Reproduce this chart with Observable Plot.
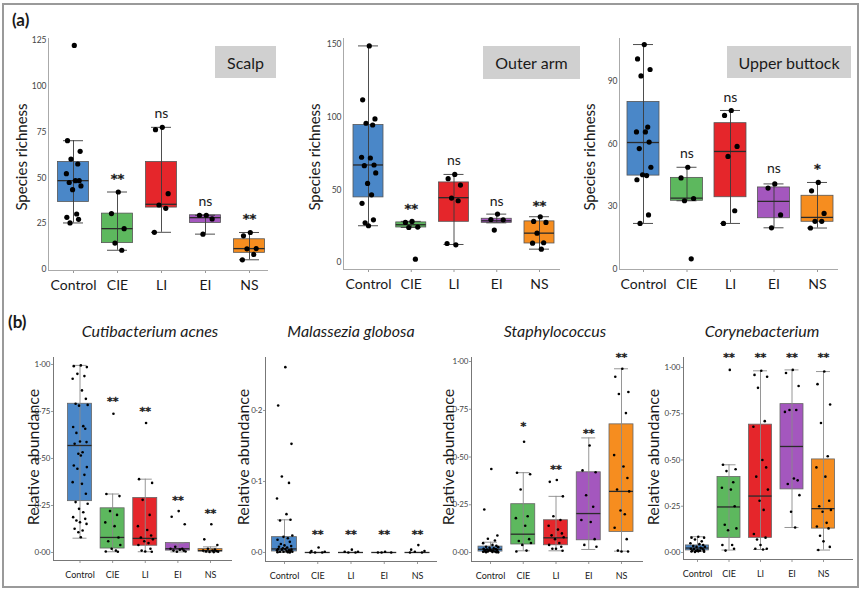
<!DOCTYPE html>
<html>
<head>
<meta charset="utf-8">
<script src="https://cdn.jsdelivr.net/npm/d3@7"></script>
<script src="https://cdn.jsdelivr.net/npm/@observablehq/plot@0.6"></script>
<style>
  html, body { margin: 0; padding: 0; background: #fff; }
  #fig { position: relative; width: 864px; height: 591px; overflow: hidden; font-family: Lato, "Open Sans", sans-serif; color: #1a1a1a; }
  .abs { position: absolute; }
  .frame { left: 2px; top: 3px; width: 857px; height: 585px; border: 2px solid #9a9a9a; box-sizing: border-box; }
  .tag { font-weight: bold; font-size: 17px; }
  .ytitle { transform: translate(-50%, -50%) rotate(-90deg); white-space: nowrap; }
  .ptitle { transform: translate(-50%, -50%); white-space: nowrap; font-style: italic; font-size: 16px; }
  .site { background: #d0d0d0; display: flex; align-items: center; justify-content: center; font-size: 16px; }
</style>
</head>
<body>
<div id="fig"></div>
<script>
// ---------- data ----------
const groups = ["Control", "CIE", "LI", "EI", "NS"];
const groupColors = ["#4a87c8", "#5db85e", "#e5262b", "#a457be", "#f68d1f"];

// box statistics per group: [lower whisker, Q1, median, Q3, upper whisker]
// (a) species richness
const scalpStats = [[25.4, 36.9, 48.5, 58.7, 70.3], [10.5, 14.4, 22.3, 30.5, 42.3], [20.3, 33.8, 35.6, 58.7, 77.6], [19.3, 25.4, 28.3, 29.6, 29.6], [5.3, 9.1, 11.4, 16.5, 20.2]];
const scalpPoints = [
  [122.3, 70.3, 64.5, 60.3, 57.6, 52.3, 48.5, 48.5, 47.5, 45.6, 43.6, 30.3, 28.5, 27.4, 25.4],
  [42.3, 30.5, 22.3, 14.4, 10.5],
  [77.6, 76.3, 41.4, 35.2, 33.4, 20.3],
  [29.6, 29.6, 27.6, 19.3],
  [20.2, 18.4, 11.4, 11.3, 8.2, 5.3]];
const scalpSig = ["", "**", "ns", "ns", "**"];
const scalpSigY = [null, 51.8, 85, 36.9, 30];
const scalpTicks = [0, 25, 50, 75, 100, 125];

const armStats = [[25.3, 44.8, 67.1, 94.6, 149], [24.1, 24.1, 26, 27.6, 28.3], [12.4, 28, 44.6, 55.1, 60.6], [27.3, 27.3, 28.7, 30.1, 33.3], [9.2, 13.1, 20.2, 28.3, 31.5]];
const armPoints = [
  [149, 111.9, 98.8, 95.8, 94.6, 72.4, 71.9, 67.1, 66.6, 61.6, 54.4, 46.6, 40.7, 29.4, 27.3, 25.3],
  [28.3, 27.6, 24.4, 24.1, 2.3],
  [60.6, 57.7, 53.3, 44.3, 42.5, 13.1, 12.2],
  [33.3, 29.6, 29.4, 22.3],
  [31.5, 28.3, 27.6, 20.2, 13.6, 13.3, 9.2]];
const armSig = ["", "**", "ns", "ns", "**"];
const armSigY = [null, 39.7, 70.5, 41.8, 41.8];
const armTicks = [0, 50, 100, 150];

const buttockStats = [[21.8, 44.8, 60.7, 80.2, 107.8], [32.7, 32.7, 34, 43.7, 48.8], [21.8, 34.4, 56.4, 70, 76.1], [19.7, 24.3, 32.4, 39.1, 40.8], [19.6, 22.6, 24.7, 35.1, 41.5]];
const buttockPoints = [
  [107.8, 100.9, 95.8, 92.7, 68.1, 65.8, 65.8, 60.9, 57.8, 48.8, 45.2, 44.8, 42.8, 25.9, 21.8],
  [48.8, 43.7, 33.8, 32.7, 4.8],
  [76.1, 73.7, 58.8, 54, 27.9, 21.8],
  [40.8, 38.8, 25.9, 19.7],
  [41.5, 37.5, 26.6, 22.8, 22.8, 19.6]];
const buttockSig = ["", "ns", "ns", "ns", "*"];
const buttockSigY = [null, 55.6, 82.2, 48, 50.1];
const buttockTicks = [0, 30, 60, 90];

// (b) relative abundance
const acnesStats = [[0.076, 0.273, 0.569, 0.791, 0.995], [0.004, 0.021, 0.08, 0.235, 0.311], [0.004, 0.036, 0.075, 0.29, 0.39], [0.003, 0.01, 0.02, 0.05, 0.05], [0.002, 0.005, 0.01, 0.018, 0.03]];
const acnesPoints = [
  [0.995, 0.991, 0.986, 0.95, 0.938, 0.924, 0.862, 0.817, 0.791, 0.785, 0.781, 0.672, 0.667, 0.658, 0.636, 0.59, 0.587, 0.578, 0.533, 0.525, 0.516, 0.463, 0.454, 0.445, 0.413, 0.374, 0.365, 0.312, 0.268, 0.259, 0.232, 0.214, 0.188, 0.179, 0.17, 0.161, 0.152, 0.126, 0.117, 0.108, 0.081],
  [0.738, 0.311, 0.3, 0.22, 0.2, 0.16, 0.14, 0.08, 0.06, 0.04, 0.02, 0.01, 0.005, 0.004],
  [0.689, 0.39, 0.37, 0.28, 0.2, 0.14, 0.12, 0.09, 0.08, 0.07, 0.06, 0.05, 0.04, 0.02, 0.01, 0.005, 0.004],
  [0.22, 0.19, 0.15, 0.03, 0.02, 0.02, 0.015, 0.01, 0.01, 0.005, 0.004],
  [0.15, 0.07, 0.04, 0.02, 0.015, 0.01, 0.01, 0.008, 0.005, 0.004, 0.003, 0.002]];
const acnesSig = ["", "**", "**", "**", "**"];
const acnesSigY = [null, 0.824, 0.769, 0.294, 0.226];

const globosaStats = [[0, 0.0014, 0.005, 0.0216, 0.046], [0, 0, 0, 0, 0], [0, 0, 0, 0, 0], [0, 0, 0, 0, 0], [0, 0, 0, 0, 0]];
const globosaPoints = [
  [0.261, 0.207, 0.153, 0.107, 0.098, 0.076, 0.054, 0.046, 0.045, 0.024, 0.022, 0.02, 0.018, 0.015, 0.012, 0.01, 0.009, 0.008, 0.007, 0.006, 0.005, 0.005, 0.004, 0.004, 0.003, 0.003, 0.002, 0.002, 0.001, 0.001, 0.001, 0.0005, 0.0005, 0],
  [0.007, 0.002, 0.001, 0, 0, 0],
  [0.004, 0.001, 0.001, 0, 0],
  [0.001, 0, 0, 0],
  [0.0104, 0.004, 0.002, 0.001, 0, 0]];
const globosaSig = ["", "**", "**", "**", "**"];
const globosaSigY = [null, 0.0296, 0.0296, 0.0296, 0.0296];

const staphStats = [[0.005, 0.005, 0.017, 0.031, 0.054], [0.009, 0.042, 0.096, 0.253, 0.418], [0.009, 0.038, 0.077, 0.169, 0.294], [0.016, 0.064, 0.204, 0.42, 0.6], [0.007, 0.108, 0.32, 0.671, 0.962]];
const staphPoints = [
  [0.437, 0.225, 0.089, 0.072, 0.063, 0.049, 0.04, 0.035, 0.03, 0.028, 0.025, 0.022, 0.02, 0.018, 0.016, 0.015, 0.013, 0.012, 0.01, 0.01, 0.008, 0.007, 0.006, 0.005, 0.005, 0.004, 0.003, 0.002, 0.002, 0.001],
  [0.58, 0.418, 0.41, 0.33, 0.19, 0.18, 0.14, 0.07, 0.06, 0.05, 0.04, 0.01, 0.005],
  [0.38, 0.37, 0.294, 0.19, 0.17, 0.14, 0.12, 0.1, 0.09, 0.08, 0.07, 0.05, 0.04, 0.03, 0.02, 0.02, 0.009],
  [0.56, 0.43, 0.42, 0.3, 0.24, 0.17, 0.16, 0.07, 0.04, 0.03],
  [0.962, 0.92, 0.84, 0.83, 0.73, 0.51, 0.45, 0.39, 0.33, 0.32, 0.22, 0.2, 0.13, 0.07, 0.01, 0.005, 0.005]];
const staphSig = ["", "*", "**", "**", "**"];
const staphSigY = [null, 0.679, 0.453, 0.643, 1.04];

const corynStats = [[0.005, 0.011, 0.024, 0.038, 0.085], [0.013, 0.079, 0.246, 0.408, 0.474], [0.016, 0.079, 0.305, 0.691, 0.982], [0.135, 0.341, 0.573, 0.802, 0.987], [0.013, 0.129, 0.237, 0.503, 0.978]];
const corynPoints = [
  [0.085, 0.08, 0.08, 0.07, 0.06, 0.05, 0.045, 0.04, 0.035, 0.03, 0.03, 0.025, 0.02, 0.02, 0.018, 0.015, 0.012, 0.01, 0.01, 0.008, 0.006, 0.005, 0.004, 0.003],
  [0.987, 0.474, 0.45, 0.44, 0.38, 0.35, 0.34, 0.25, 0.15, 0.13, 0.12, 0.04, 0.04, 0.02, 0.01],
  [0.982, 0.96, 0.95, 0.89, 0.71, 0.68, 0.5, 0.46, 0.41, 0.34, 0.28, 0.23, 0.1, 0.08, 0.07, 0.04, 0.02, 0.02, 0.016],
  [0.987, 0.97, 0.9, 0.77, 0.77, 0.76, 0.4, 0.39, 0.37, 0.31, 0.22, 0.135],
  [0.978, 0.91, 0.8, 0.7, 0.52, 0.46, 0.41, 0.28, 0.25, 0.23, 0.22, 0.16, 0.14, 0.13, 0.09, 0.06, 0.03, 0.013]];
const corynSig = ["", "**", "**", "**", "**"];
const corynSigY = [null, 1.074, 1.074, 1.074, 1.074];

const abundTicks = [0, 0.25, 0.5, 0.75, 1];
const globosaTicks = [0, 0.1, 0.2];

// ---------- drawing ----------
const FONT = "Lato, 'Open Sans', sans-serif";
const fig = document.getElementById("fig");
// fixed (non-random) jitter pattern for the dots, in fractions of the category step
const jit = [0.05, -0.38, 0.42, -0.16, 0.27, -0.45, 0.12, 0.36, -0.27, 0.47, -0.06, 0.2, -0.42, 0.32, -0.22, 0.0, 0.4, -0.33, 0.16, -0.1];
const dotFmt = p => v => d3.format(p)(v).replace(".", "\u00b7");

function panel(L, stats, points, sig, sigY, ticks, fmt) {
  const n = groups.length;
  const step = (L.cN - L.c0) / (n - 1);
  const mL = 40, mT = 26, mR = 4, mB = 34;
  const svgLeft = L.axisX - mL, svgTop = L.top - mT;
  const W = L.axisRight + mR - svgLeft, H = L.bottom + mB - svgTop;
  const xd0 = (L.axisX - L.c0) / step, xd1 = (L.axisRight - L.c0) / step;
  const hw = L.boxW / step / 2, cw = L.capW / step / 2;
  const rows = groups.map((g, i) => ({
    i, lo: stats[i][0], q1: stats[i][1], med: stats[i][2], q3: stats[i][3], hi: stats[i][4],
    sig: sig[i], sy: sigY[i], col: groupColors[i]
  }));
  const pts = points.flatMap((arr, i) => arr.map((v, j) => ({x: i + jit[j % jit.length] * L.jitter, v})));
  const svg = Plot.plot({
    width: W, height: H, marginLeft: mL, marginTop: mT, marginRight: mR, marginBottom: mB,
    style: {background: "transparent", overflow: "visible", fontFamily: FONT, position: "absolute", left: svgLeft + "px", top: svgTop + "px"},
    x: {domain: [xd0, xd1], axis: null},
    y: {domain: [L.ymin, L.ymax], axis: null},
    color: {type: "identity"},
    marks: [
      Plot.axisX({ticks: d3.range(n), tickFormat: i => groups[i], tickSize: 3, tickPadding: L.xPad, fontSize: L.catSize, stroke: "#999", fill: "#1a1a1a", label: null}),
      Plot.axisY({ticks, tickFormat: fmt, tickSize: L.yTick, tickPadding: L.yPad, fontSize: L.tickFont, stroke: "#999", fill: "#444", label: null}),
      Plot.rectY(rows, {x1: d => d.i - hw, x2: d => d.i + hw, y1: "q1", y2: "q3", fill: "col", stroke: L.boxStroke, strokeWidth: 0.8}),
      Plot.ruleX(rows, {x: "i", y1: "lo", y2: "hi", stroke: L.whisker, strokeWidth: 0.9}),
      Plot.ruleY(rows, {y: "lo", x1: d => d.i - cw, x2: d => d.i + cw, stroke: L.whisker, strokeWidth: 0.9}),
      Plot.ruleY(rows, {y: "hi", x1: d => d.i - cw, x2: d => d.i + cw, stroke: L.whisker, strokeWidth: 0.9}),
      Plot.ruleY(rows, {y: "med", x1: d => d.i - hw, x2: d => d.i + hw, stroke: "#2a2a2a", strokeWidth: 1.3}),
      Plot.dot(pts, {x: "x", y: "v", r: L.r, fill: "#000", stroke: "none"}),
      Plot.text(rows.filter(d => d.sig === "ns"), {x: "i", y: "sy", text: "sig", fontSize: L.nsSize, fill: "#1a1a1a"}),
      Plot.text(rows.filter(d => d.sig.startsWith("*")), {x: "i", y: "sy", text: "sig", fontSize: L.starSize, fontWeight: "bold", fontFamily: "'DejaVu Sans', sans-serif", dy: L.starDy, fill: "#1a1a1a", stroke: "#1a1a1a", strokeWidth: 0.3}),
      Plot.ruleX([xd0], {stroke: L.axisCol, strokeWidth: 1}),
      Plot.ruleY([L.ymin], {stroke: L.axisCol, strokeWidth: 1})
    ]
  });
  fig.appendChild(svg);
}

const aStyle = {xPad: 7, catSize: 14, yTick: 0, yPad: 2, tickFont: 8.5, boxStroke: "#555", whisker: "#3a3a3a", r: 2.6, nsSize: 14, starSize: 13, starDy: 4, axisCol: "#aaa", jitter: 0.36, capW: 20};
const bStyle = {xPad: 8, catSize: 9, yTick: 2, yPad: 1, tickFont: 8, boxStroke: "#666", whisker: "#8a8a8a", r: 1.3, nsSize: 12, starSize: 11, starDy: 3.5, axisCol: "#777", jitter: 0.5, capW: 14};

const frame = document.createElement("div");
frame.className = "abs frame";
fig.appendChild(frame);

panel({...aStyle, axisX: 48, axisRight: 268, top: 38, bottom: 270, ymin: -0.55, ymax: 126.1, c0: 73, cN: 249, boxW: 31},
  scalpStats, scalpPoints, scalpSig, scalpSigY, scalpTicks, d3.format("d"));
panel({...aStyle, axisX: 343, axisRight: 560, top: 38, bottom: 269, ymin: -4.8, ymax: 154.1, c0: 368, cN: 539, boxW: 30},
  armStats, armPoints, armSig, armSigY, armTicks, d3.format("d"));
panel({...aStyle, axisX: 619, axisRight: 838, top: 38, bottom: 269, ymin: -0.34, ymax: 110.7, c0: 643, cN: 817, boxW: 32},
  buttockStats, buttockPoints, buttockSig, buttockSigY, buttockTicks, d3.format("d"));

panel({...bStyle, axisX: 53, axisRight: 232, top: 357, bottom: 560, ymin: -0.0426, ymax: 1.037, c0: 79.5, cN: 210, boxW: 24},
  acnesStats, acnesPoints, acnesSig, acnesSigY, abundTicks, dotFmt(".2f"));
panel({...bStyle, axisX: 265, axisRight: 437, top: 357, bottom: 561, ymin: -0.0127, ymax: 0.2746, c0: 284, cN: 417, boxW: 25},
  globosaStats, globosaPoints, globosaSig, globosaSigY, globosaTicks, dotFmt(".1f"));
panel({...bStyle, axisX: 471, axisRight: 643, top: 357, bottom: 561, ymin: -0.047, ymax: 1.021, c0: 490, cN: 621, boxW: 24},
  staphStats, staphPoints, staphSig, staphSigY, abundTicks, dotFmt(".2f"));
panel({...bStyle, axisX: 683, axisRight: 853, top: 357, bottom: 559, ymin: -0.038, ymax: 1.054, c0: 697, cN: 823, boxW: 23},
  corynStats, corynPoints, corynSig, corynSigY, abundTicks, dotFmt(".2f"));

// ---------- text ----------
function addText(txt, cls, css) {
  const d = document.createElement("div");
  d.className = "abs " + cls;
  d.textContent = txt;
  Object.assign(d.style, css);
  fig.appendChild(d);
}
addText("(a)", "tag", {left: "12px", top: "9px"});
addText("(b)", "tag", {left: "8px", top: "311px"});
addText("Scalp", "site", {left: "215px", top: "46px", width: "61px", height: "32px"});
addText("Outer arm", "site", {left: "483px", top: "46px", width: "97px", height: "33px"});
addText("Upper buttock", "site", {left: "727px", top: "46px", width: "124px", height: "32px"});
for (const x of [21, 314, 589]) addText("Species richness", "ytitle", {left: x + "px", top: "157px", fontSize: "15px"});
for (const x of [32, 242, 447, 652]) addText("Relative abundance", "ytitle", {left: x + "px", top: "457px", fontSize: "16px"});
addText("Cutibacterium acnes", "ptitle", {left: "150px", top: "330px"});
addText("Malassezia globosa", "ptitle", {left: "351px", top: "330px"});
addText("Staphylococcus", "ptitle", {left: "555px", top: "330px"});
addText("Corynebacterium", "ptitle", {left: "762px", top: "330px"});
</script>
</body>
</html>
